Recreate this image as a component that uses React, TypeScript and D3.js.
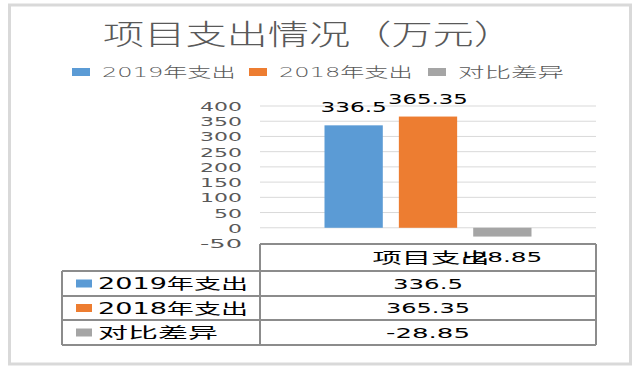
import React from 'react';
import * as d3 from 'd3';

// chart data
const categories = ['项目支出'];
const seriesNames = ['2019年支出', '2018年支出', '对比差异'];
const seriesValues = [336.5, 365.35, -28.85];
const seriesColors = ['#5b9bd5', '#ed7d31', '#a5a5a5'];
const yTicks = [-50, 0, 50, 100, 150, 200, 250, 300, 350, 400];
const title = '项目支出情况（万元）';

const W = 642;
const H = 372;
const FONT = '"DejaVu Sans", "Noto Sans CJK SC", sans-serif';

// width of a stretched string: ascii chars get a, wide (CJK) chars get c
const tw = (s: string, a: number, c: number) =>
    Array.from(s).reduce((sum, ch) => sum + (ch.charCodeAt(0) > 255 ? c : a), 0);

const StretchText = ({ x, y, text, size, a, c, anchor = 'start', fill = '#000', weight = 400 }: any) => (
    <text
        x={x}
        y={y}
        fontSize={size}
        fontFamily={FONT}
        fontWeight={weight}
        textAnchor={anchor}
        fill={fill}
        textLength={tw(text, a, c)}
        lengthAdjust="spacingAndGlyphs"
    >
        {text}
    </text>
);

const App = () => {
    // plot area
    const plot = { left: 260, right: 596, top: 106, bottom: 243 };

    const yScale = d3.scaleLinear().domain([-50, 400]).range([plot.bottom, plot.top]);

    const x0 = d3.scaleBand().domain(categories).range([plot.left, plot.right]);
    const groupPad = (x0.bandwidth() - 207) / 2;
    const x1 = d3.scaleBand()
        .domain(seriesNames)
        .range([groupPad, x0.bandwidth() - groupPad])
        .paddingInner(0.216);

    // table geometry
    const tbl = { left: 62, top: 244, rows: [271, 296, 320, 345] };
    const colMid = (plot.left + plot.right) / 2;
    const lineCol = '#8c8c8c';

    // legend layout
    const legendX = [72, 249, 428];

    return (
        <svg width={W} height={H} style={{ position: 'absolute', left: 0, top: 0, background: '#fff' }}>
            <rect x={9.5} y={5} width={621} height={359} fill="#fff" stroke="#d9d9d9" strokeWidth={3} />

            <StretchText x={309} y={45} text={title} size={28} a={20} c={41.2} anchor="middle" fill="#595959" weight={300} />

            {/* legend */}
            {seriesNames.map((name, i) => (
                <g key={name}>
                    <rect x={legendX[i]} y={68} width={18} height={8} fill={seriesColors[i]} />
                    <StretchText x={legendX[i] + 30} y={77} text={name} size={14} a={13.5} c={26.5} fill="#595959" weight={300} />
                </g>
            ))}

            {/* grid + y axis labels */}
            {yTicks.map(t => (
                <g key={t}>
                    {t !== -50 && (
                        <line x1={plot.left} x2={plot.right} y1={yScale(t)} y2={yScale(t)} stroke="#d9d9d9" strokeWidth={1} />
                    )}
                    <StretchText x={242} y={yScale(t) + 5} text={String(t)} size={13} a={14} c={14} anchor="end" fill="#595959" />
                </g>
            ))}

            {/* bars and data labels */}
            {categories.map(cat => (
                <g key={cat} transform={`translate(${x0(cat)},0)`}>
                    {seriesValues.map((v, i) => {
                        const bx = x1(seriesNames[i]) as number;
                        const bw = x1.bandwidth();
                        const y0 = yScale(0);
                        const yv = yScale(v);
                        const label = String(v);
                        return (
                            <g key={i}>
                                <rect x={bx} y={Math.min(y0, yv)} width={bw} height={Math.abs(yv - y0)} fill={seriesColors[i]} />
                                <StretchText
                                    x={bx + bw / 2}
                                    y={v >= 0 ? yv - 13 : yv + 25}
                                    text={label}
                                    size={14}
                                    a={13.3}
                                    c={13.3}
                                    anchor="middle"
                                />
                            </g>
                        );
                    })}
                </g>
            ))}

            {/* data table */}
            <g stroke={lineCol} strokeWidth={2} fill="none">
                <line x1={plot.left} x2={plot.right} y1={tbl.top} y2={tbl.top} />
                <line x1={plot.left} x2={plot.left} y1={tbl.top} y2={tbl.rows[3]} />
                <line x1={plot.right} x2={plot.right} y1={tbl.top} y2={tbl.rows[3]} />
                <line x1={tbl.left} x2={tbl.left} y1={tbl.rows[0]} y2={tbl.rows[3]} />
                {tbl.rows.map(r => (
                    <line key={r} x1={tbl.left} x2={plot.right} y1={r} y2={r} />
                ))}
            </g>
            {categories.map(cat => (
                <StretchText key={cat} x={colMid + 3} y={263} text={cat} size={15} a={14} c={29.3} anchor="middle" />
            ))}
            {seriesNames.map((name, i) => {
                const top = tbl.rows[i];
                const bottom = tbl.rows[i + 1];
                const mid = (top + bottom) / 2;
                return (
                    <g key={name}>
                        <rect x={76} y={mid - 4} width={16} height={8} fill={seriesColors[i]} />
                        <StretchText x={98} y={mid + 5.5} text={name} size={15} a={15} c={30} />
                        <StretchText x={colMid} y={mid + 5} text={String(seriesValues[i])} size={14} a={14} c={14} anchor="middle" />
                    </g>
                );
            })}
        </svg>
    );
};

export default App;
